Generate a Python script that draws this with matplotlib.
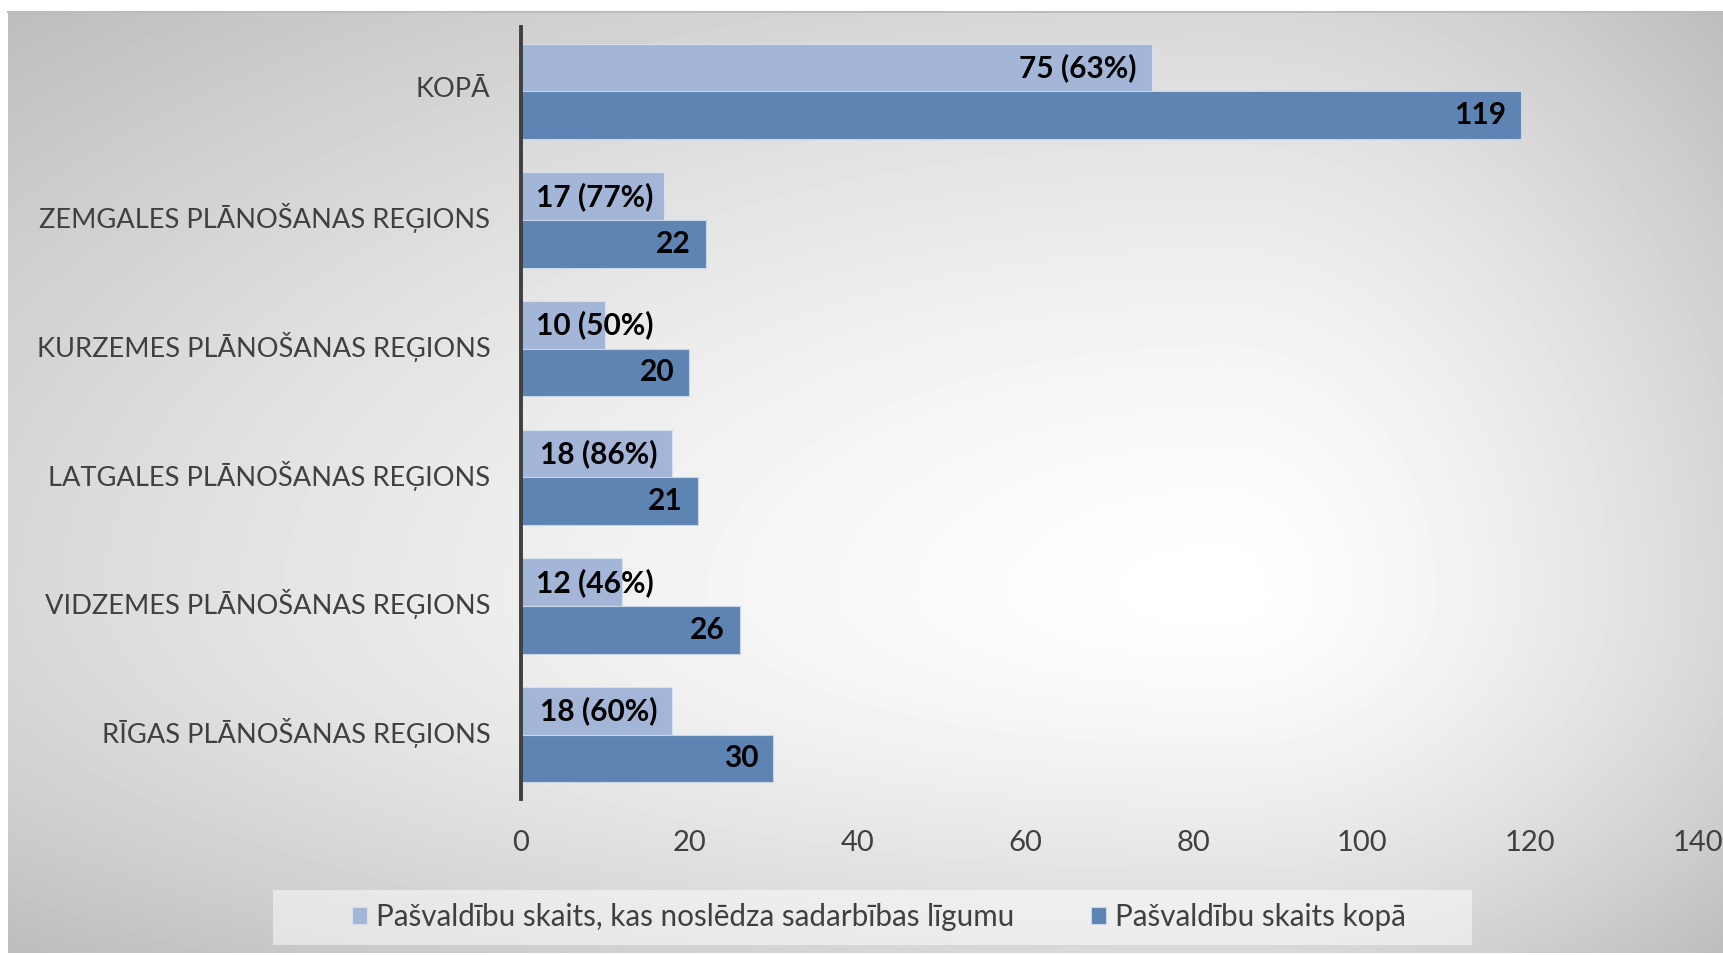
"""
Pašvaldību sadarbības līgumi pa plānošanas reģioniem.
"""
import matplotlib
matplotlib.use('Agg')
import matplotlib.pyplot as plt
import matplotlib.patches as mpatches
import matplotlib.transforms as mtransforms
import numpy as np

plt.rcParams['font.family'] = ['Lato', 'DejaVu Sans']

# data, bottom to top
categories = ['RĪGAS PLĀNOŠANAS REĢIONS', 'VIDZEMES PLĀNOŠANAS REĢIONS',
              'LATGALES PLĀNOŠANAS REĢIONS', 'KURZEMES PLĀNOŠANAS REĢIONS',
              'ZEMGALES PLĀNOŠANAS REĢIONS', 'KOPĀ']
signed = [18, 12, 18, 10, 17, 75]
total = [30, 26, 21, 20, 22, 119]
xticks = [0, 20, 40, 60, 80, 100, 120, 140]
legend_labels = ['Pašvaldību skaits, kas noslēdza sadarbības līgumu',
                 'Pašvaldību skaits kopā']

light = '#A3B6D7'
dark = '#5E84B3'
txt = '#404040'

W, H = 1723, 955
fig = plt.figure(figsize=(W / 100, H / 100), dpi=100)
fig.patch.set_facecolor('white')

# ---- radial gradient background
bg = fig.add_axes([8 / W, 2 / H, 1 - 8 / W, (953 - 11) / H], zorder=-10)
gx = np.linspace(0, 1, 500)
gy = np.linspace(0, 1, 300)
X, Y = np.meshgrid(gx, gy)
cx, cy = 0.71, 0.62
dx = np.where(X < cx, (cx - X) / cx, (X - cx) / (1 - cx))
dy = np.where(Y < cy, (cy - Y) / cy, (Y - cy) / (1 - cy))
d = np.clip(np.sqrt(dx ** 2 + dy ** 2) / np.sqrt(2), 0, 1)
shade = 1 - 0.26 * d ** 1.5
bg.imshow(shade, cmap='gray', vmin=0, vmax=1, aspect='auto',
          interpolation='bilinear', extent=[0, 1, 1, 0])
bg.set_xlim(0, 1)
bg.set_ylim(1, 0)
bg.axis('off')
bg.plot([0, 1], [0.001, 0.001], color='#bcbcbc', lw=1.5, clip_on=False)

# ---- bars
ax = fig.add_axes([521 / W, 1 - 799 / H, (1698 - 521) / W, (799 - 27) / H])
ax.patch.set_alpha(0)
y = np.arange(len(categories))
h = 0.37
ax.barh(y + h / 2, signed, height=h, color=light, edgecolor='#d6e0ee',
        linewidth=0.8, label=legend_labels[0])
ax.barh(y - h / 2, total, height=h, color=dark, edgecolor='#c9d6ea',
        linewidth=0.8, label=legend_labels[1])

ax.set_xlim(0, 140)
ax.set_ylim(-0.5, 5.5)
ax.set_xticks(xticks)
ax.set_xticklabels([str(t) for t in xticks])
ax.set_yticks(y)
ax.set_yticklabels(categories)
ax.tick_params(axis='x', length=0, pad=22, labelsize=21, labelcolor=txt)
ax.tick_params(axis='y', length=0, pad=22, labelsize=19.6, labelcolor=txt)
# nudge category labels up a little
up = mtransforms.ScaledTranslation(0, 3 / 72, fig.dpi_scale_trans)
for lab in ax.get_yticklabels():
    lab.set_transform(lab.get_transform() + up)
for s in ['top', 'right', 'bottom']:
    ax.spines[s].set_visible(False)
ax.spines['left'].set_color('#404040')
ax.spines['left'].set_linewidth(2.8)
ax.spines['left'].set_zorder(5)

# ---- value labels
pad = 15
fs_val = 21.5
labels = []
for i in range(len(categories)):
    pct = round(100 * signed[i] / total[i])
    t1 = ax.annotate(f'{signed[i]} ({pct}%)', (signed[i], y[i] + h / 2),
                     xytext=(-pad, 0), textcoords='offset pixels',
                     ha='right', va='center', fontsize=fs_val,
                     fontweight='bold', color='black')
    t2 = ax.annotate(f'{total[i]}', (total[i], y[i] - h / 2),
                     xytext=(-pad, 0), textcoords='offset pixels',
                     ha='right', va='center', fontsize=fs_val,
                     fontweight='bold', color='black')
    labels += [(t1, y[i] + h / 2), (t2, y[i] - h / 2)]

fig.canvas.draw()
r = fig.canvas.get_renderer()
x0 = ax.transData.transform((0, 0))[0]
for t, yy in labels:
    if t.get_window_extent(r).x0 < x0 + pad:
        s = t.get_text()
        t.remove()
        ax.annotate(s, (0, yy), xytext=(pad, 0), textcoords='offset pixels',
                    ha='left', va='center', fontsize=fs_val, fontweight='bold',
                    color='black')

# ---- legend
box = mpatches.Rectangle((273 / W, 1 - 945 / H), (1472 - 273) / W, 55 / H,
                         transform=fig.transFigure, facecolor='white',
                         alpha=0.5, edgecolor='none', zorder=-5)
fig.patches.append(box)
handles = [mpatches.Patch(facecolor=light, edgecolor='#d6e0ee', lw=0.8),
           mpatches.Patch(facecolor=dark, edgecolor='#c9d6ea', lw=0.8)]
leg = fig.legend(handles, legend_labels, loc='center',
                 bbox_to_anchor=(879 / W, 1 - 917 / H), ncol=2, frameon=False,
                 fontsize=21.3, handlelength=0.5, handleheight=0.5,
                 handletextpad=0.3, columnspacing=2.6)
for tx in leg.get_texts():
    tx.set_color(txt)

fig.savefig('out.png', dpi=100)
